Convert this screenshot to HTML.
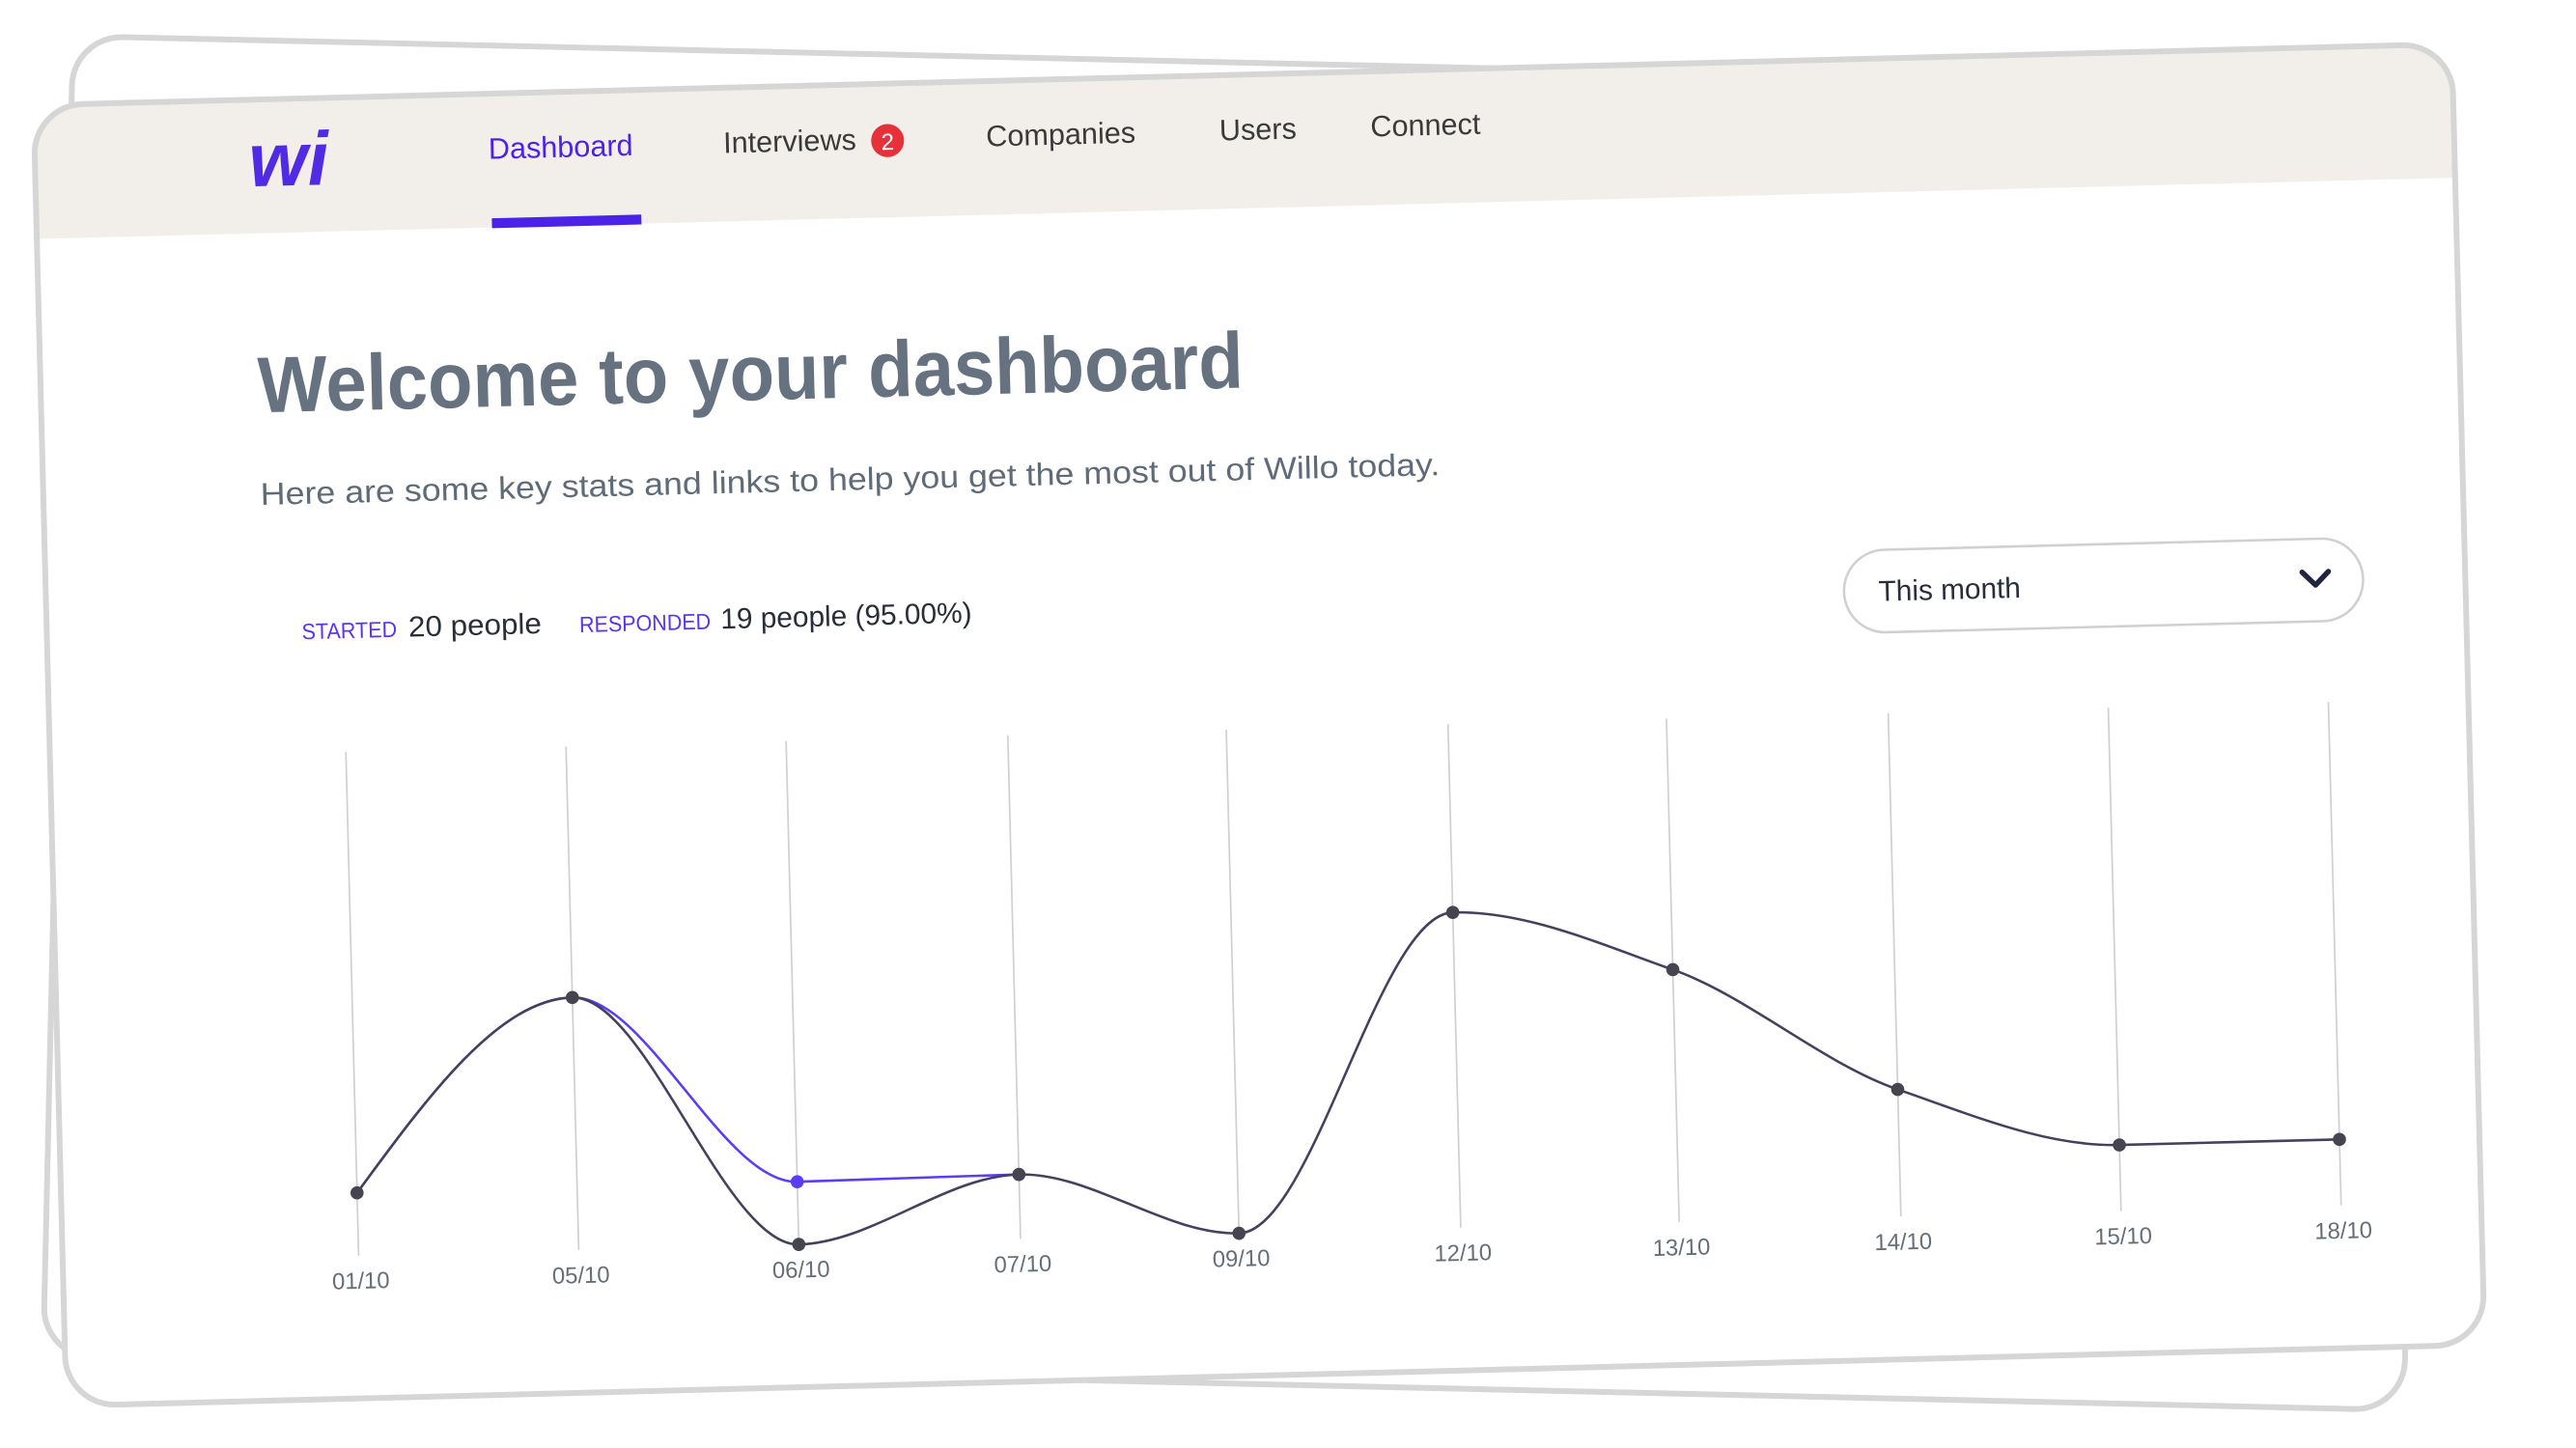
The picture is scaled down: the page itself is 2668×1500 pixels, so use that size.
<!DOCTYPE html>
<html><head><meta charset="utf-8"><style>
html,body{margin:0;padding:0;background:#fff;}
svg{display:block;}
text{font-family:"Liberation Sans",sans-serif;}
</style></head><body>
<svg width="2668" height="1500" viewBox="0 0 1560 877" preserveAspectRatio="none" xmlns="http://www.w3.org/2000/svg">
<defs>
<clipPath id="fc"><rect x="30" y="45" width="1465" height="788" rx="30"/></clipPath>
</defs>
<!-- back card -->
<g transform="rotate(1.3 752 438)">
<rect x="35" y="38" width="1430" height="800" rx="30" fill="#fff" stroke="#d6d6d6" stroke-width="3.5"/>
</g>
<!-- front card -->
<g transform="rotate(-1.45 765 440)">
<rect x="30" y="45" width="1465" height="788" rx="30" fill="#fff"/>
<g clip-path="url(#fc)">
<rect x="20" y="40" width="1490" height="86" fill="#f2efea"/>
</g>
<rect x="30" y="45" width="1465" height="788" rx="30" fill="none" stroke="#d6d6d6" stroke-width="3.5"/>
<g transform="matrix(0.995 0 0 1 0.3 -3.5)">
<!-- logo -->
<text x="160" y="101" font-size="46" font-weight="bold" fill="#4f2be6" font-style="italic">wi</text>
<!-- nav -->
<text x="306" y="88" font-size="18" fill="#4a22e8">Dashboard</text>
<rect x="307" y="124" width="91" height="6" fill="#4a22e8"/>
<text x="449" y="88" font-size="18" fill="#3a3a3a">Interviews</text>
<circle cx="549" cy="83" r="10" fill="#e8303a"/>
<text x="549" y="88.5" font-size="14" fill="#fff" text-anchor="middle">2</text>
<text x="609" y="88" font-size="18" fill="#3a3a3a">Companies</text>
<text x="751" y="88" font-size="18" fill="#3a3a3a">Users</text>
<text x="843" y="88" font-size="18" fill="#3a3a3a">Connect</text>
<!-- title -->
<text x="162" y="238" font-size="48" font-weight="bold" fill="#66727f" textLength="600" lengthAdjust="spacingAndGlyphs">Welcome to your dashboard</text>
<text x="162" y="294" font-size="19" fill="#5f6b78" textLength="718" lengthAdjust="spacingAndGlyphs">Here are some key stats and links to help you get the most out of Willo today.</text>
<!-- stats -->
<text x="185" y="376" font-size="13.5" fill="#5b34f0" textLength="58" lengthAdjust="spacingAndGlyphs">STARTED</text>
<text x="250" y="376" font-size="17.5" fill="#2a2d3a" textLength="81" lengthAdjust="spacingAndGlyphs">20 people</text>
<text x="354" y="376" font-size="13.5" fill="#5b34f0" textLength="80" lengthAdjust="spacingAndGlyphs">RESPONDED</text>
<text x="440" y="376" font-size="17.5" fill="#2a2d3a" textLength="153" lengthAdjust="spacingAndGlyphs">19 people (95.00%)</text>
<!-- dropdown -->
<rect x="1124" y="346" width="316" height="50" rx="25" fill="#fff" stroke="#d0d0d0" stroke-width="1.5"/>
<text x="1145" y="377" font-size="17.5" fill="#2a2d3a">This month</text>
<path d="M1403 366 L1411 374 L1419 366" fill="none" stroke="#1f2440" stroke-width="3.2" stroke-linecap="round" stroke-linejoin="round"/>
<!-- gridlines -->
<g stroke="#d0d0d0" stroke-width="1">
<line x1="210" y1="445" x2="210" y2="750"/>
<line x1="344" y1="445" x2="344" y2="750"/>
<line x1="478" y1="445" x2="478" y2="750"/>
<line x1="613" y1="445" x2="613" y2="750"/>
<line x1="746" y1="445" x2="746" y2="750"/>
<line x1="881" y1="445" x2="881" y2="750"/>
<line x1="1014" y1="445" x2="1014" y2="750"/>
<line x1="1149" y1="445" x2="1149" y2="750"/>
<line x1="1283" y1="445" x2="1283" y2="750"/>
<line x1="1417" y1="445" x2="1417" y2="750"/>
</g>
<!-- responded -->
<path d="M210 712 C254.7 654.5 299.3 597 344 597 C388.7 597 433.3 712 478 712 C523 712 568 711 613 711" fill="none" stroke="#5b3df5" stroke-width="1.5"/>
<!-- started -->
<path d="M210 712 C254.7 654.5 299.3 597 344 597 C388.7 597 433.3 750 478 750 C523 750 568 711 613 711 C657.3 711 701.7 750 746 750 C791 750 836 559 881 559 C925.3 559 969.7 580.2 1014 597 C1059 614.1 1104 656.3 1149 673 C1193.7 689.5 1238.3 710 1283 710 C1327.7 710 1372.3 710 1417 710" fill="none" stroke="#45405f" stroke-width="1.5"/>
<g fill="#45454f">
<circle cx="210" cy="712" r="4"/>
<circle cx="344" cy="597" r="4"/>
<circle cx="478" cy="750" r="4"/>
<circle cx="613" cy="711" r="4"/>
<circle cx="746" cy="750" r="4"/>
<circle cx="881" cy="559" r="4"/>
<circle cx="1014" cy="597" r="4"/>
<circle cx="1149" cy="673" r="4"/>
<circle cx="1283" cy="710" r="4"/>
<circle cx="1417" cy="710" r="4"/>
</g>
<circle cx="478" cy="712" r="4" fill="#5b3df5"/>
<!-- x labels -->
<g font-size="14" fill="#666e77" text-anchor="middle">
<text x="211" y="770">01/10</text>
<text x="345" y="770">05/10</text>
<text x="479" y="770">06/10</text>
<text x="614" y="770">07/10</text>
<text x="747" y="770">09/10</text>
<text x="882" y="770">12/10</text>
<text x="1015" y="770">13/10</text>
<text x="1150" y="770">14/10</text>
<text x="1284" y="770">15/10</text>
<text x="1418" y="770">18/10</text>
</g>
</g>
</g>
</svg>
</body></html>
